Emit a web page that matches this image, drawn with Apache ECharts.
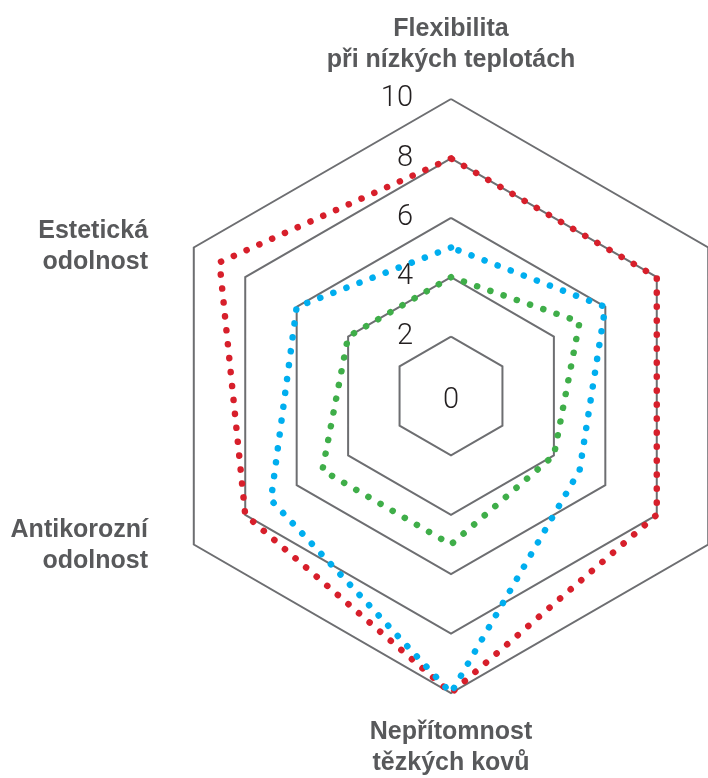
<!DOCTYPE html>
<html>
<head>
<meta charset="utf-8">
<script src="https://cdn.jsdelivr.net/npm/echarts@6/dist/echarts.min.js"></script>
<style>html,body{margin:0;padding:0;background:#fff}#c{width:708px;height:778px}</style>
</head>
<body>
<div id="c"></div>
<script>
// Indicators in ECharts order (top, then counter-clockwise)
const indicatorNames = [
  'Flexibilita\npři nízkých teplotách',
  'Estetická\nodolnost',
  'Antikorozní\nodolnost',
  'Nepřítomnost\ntězkých kovů',
  '',
  ''
];
const tickValues = [0, 2, 4, 6, 8, 10];
const seriesNames = ['Red', 'Blue', 'Green'];
const redValues   = [8, 9, 8, 10, 8, 8];
const blueValues  = [5, 6, 7, 10, 5, 6];
const greenValues = [4, 4, 5, 5, 4, 5];
const seriesColors = ['#d71f2b', '#00aeef', '#3fae49'];

const maxV = tickValues[tickValues.length - 1];
const minV = tickValues[0];
const labelFont = { fontFamily: 'Roboto, "Liberation Sans", sans-serif', fontWeight: 300, fontSize: 29, color: '#231f20' };

function indicators(labelOpt) {
  return indicatorNames.map((n, i) => {
    const o = { name: n, min: minV, max: maxV, nameMoveOverlap: false };
    o.axisLabel = (i === 0) ? labelOpt : { show: false };
    return o;
  });
}

const common = {
  center: [451, 396],
  radius: 297,
  startAngle: 90,
  splitNumber: tickValues.length - 1,
  shape: 'polygon',
  axisLine: { show: false },
  axisTick: { show: false },
  splitArea: { show: false }
};

const chart = echarts.init(document.getElementById('c'), null, { renderer: 'canvas' });
chart.setOption({
  animation: false,
  backgroundColor: '#fff',
  radar: [
    Object.assign({}, common, {
      nameGap: 2,
      axisName: {
        color: '#58595b',
        fontFamily: '"Liberation Sans", Arial, sans-serif',
        fontWeight: 'bold',
        fontSize: 25,
        lineHeight: 31,
        padding: [22, 44, 21, 44]
      },
      splitLine: { lineStyle: { color: '#6d6e71', width: 2 } },
      axisLabel: { show: false },
      indicator: indicators(Object.assign({
        show: true, margin: 38, align: 'right',
        formatter: v => (v === minV ? '' : String(v))
      }, labelFont))
    }),
    Object.assign({}, common, {
      axisName: { show: false },
      splitLine: { show: false },
      axisLabel: { show: false },
      indicator: indicators(Object.assign({
        show: true, margin: 0, align: 'center',
        formatter: v => (v === minV ? '{z|' + v + '}' : ''),
        rich: { z: { padding: [10, 0, 0, 0] } }
      }, labelFont))
    })
  ],
  series: [{
    type: 'radar',
    radarIndex: 0,
    symbol: 'none',
    data: [redValues, blueValues, greenValues].map((vals, i) => ({
      name: seriesNames[i],
      value: vals,
      lineStyle: { color: seriesColors[i], width: 6.5, type: [0.1, 13.9], cap: 'round' }
    }))
  }]
});
</script>
</body>
</html>
